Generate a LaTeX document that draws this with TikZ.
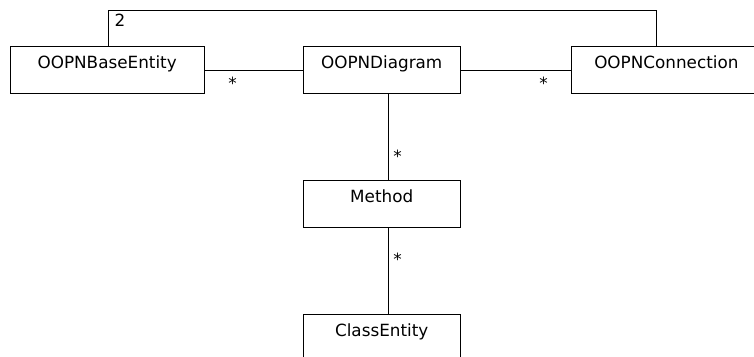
\documentclass[tikz,border=0pt]{standalone}
\usepackage{fontspec}
\setmainfont{DejaVu Sans}
\begin{document}
\begin{tikzpicture}[x=1pt,y=-1pt,
  classbox/.style={draw, line width=1pt, rectangle, anchor=north west,
    inner xsep=0pt, inner ysep=0pt, outer sep=0pt,
    text height=22.5pt, text depth=24.5pt, minimum width=156.8pt,
    font=\fontsize{16.8}{20}\selectfont},
  assoc/.style={line width=1pt},
  mult/.style={anchor=base, inner sep=0pt, font=\fontsize{16.8}{20}\selectfont}]
\useasboundingbox (0,0) rectangle (754,356);
\clip (0,0) rectangle (754,356);

% classes
\node[classbox, minimum width=193.7pt] (be) at (10.3,46.3) {OOPNBaseEntity};
\node[classbox] (dg) at (303.3,46.3) {OOPNDiagram};
\node[classbox, minimum width=189.3pt] (cn) at (571.7,46.3) {OOPNConnection};
\node[classbox] (me) at (303.3,180.3) {Method};
\node[classbox] (ce) at (303.3,314.3) {ClassEntity};

% associations
\draw[assoc] ([xshift=1pt]be.north) -- ++(0,-36.3) -| ([xshift=-9.5pt]cn.north);
\draw[assoc] ([yshift=-1pt]be.east) -- ([yshift=-1pt]dg.west);
\draw[assoc] ([yshift=-1pt]dg.east) -- ([yshift=-1pt]cn.west);
\draw[assoc] ([xshift=7pt]dg.south) -- ([xshift=7pt]me.north);
\draw[assoc] ([xshift=7pt]me.south) -- ([xshift=7pt]ce.north);

% multiplicities
\node[mult, anchor=base west] (m2) at (114.5,26) {2};
\node[mult] (mbe) at (232.5,89.5) {*};
\node[mult] (mcn) at (543.5,89.5) {*};
\node[mult] (mme) at (397.5,162.5) {*};
\node[mult] (mce) at (397.5,265) {*};
\end{tikzpicture}
\end{document}
